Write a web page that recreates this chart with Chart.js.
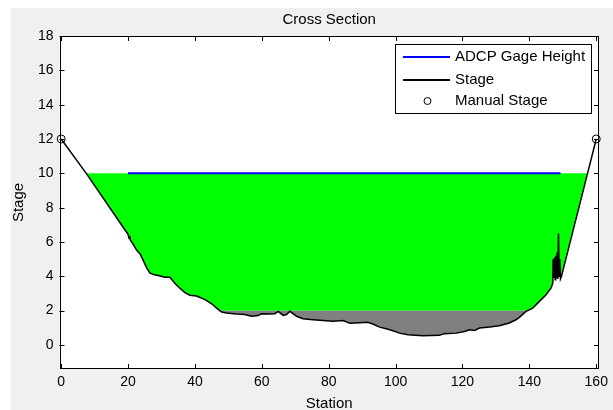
<!DOCTYPE html>
<html>
<head>
<meta charset="utf-8">
<script src="https://cdn.jsdelivr.net/npm/chart.js@4.4.0/dist/chart.umd.min.js"></script>
<style>
  html, body { margin: 0; padding: 0; background: #fff; }
  #wrap { position: absolute; left: 11px; top: 8px; width: 602px; height: 402px; background: #f0f0f0; }
</style>
</head>
<body>
<div id="wrap"><canvas id="c"></canvas></div>
<script>
// bed profile (station, stage)
const stationX = [0, 7.5, 19.1, 20.0, 20.3, 20.5, 20.7, 21.4, 22.5, 23.6, 24.6, 25.6, 26.5, 27.6, 29.0,
  31.0, 32.5, 34.0, 35.5, 37.0, 38.5, 40.5, 43.0, 45.0, 46.5, 48.0, 49.5, 52.4, 54.9, 56.9, 58.9,
  59.9, 62.4, 63.9, 64.9, 66.4, 67.4, 68.4, 70.4, 72.3, 75.3, 78.3, 81.3, 84.3, 86.3, 89.3, 91.7,
  93.2, 95.2, 97.2, 99.2, 101.2, 103.7, 108.2, 113.1, 114.6, 118.1, 120.6, 122.1, 123.6, 125.1,
  128.1, 131.0, 134.0, 136.0, 137.0, 139.0, 141.0, 143.0, 145.0, 146.5, 147.0, 147.1, 147.3, 147.5,
  147.7, 147.9, 148.1, 148.3, 148.5, 148.7, 148.9, 149.1, 149.3, 149.6, 157.4, 160];
const stageY = [12, 10, 6.7, 6.45, 6.2, 6.35, 6.1, 5.9, 5.55, 5.3, 4.9, 4.47, 4.2, 4.1, 4.05,
  3.95, 3.94, 3.6, 3.3, 3.05, 2.9, 2.85, 2.64, 2.4, 2.15, 1.92, 1.86, 1.8, 1.77, 1.67, 1.71,
  1.82, 1.8, 1.82, 1.96, 1.72, 1.77, 1.96, 1.67, 1.53, 1.47, 1.42, 1.38, 1.42, 1.26, 1.3, 1.32,
  1.22, 1.04, 0.95, 0.83, 0.69, 0.6, 0.54, 0.56, 0.66, 0.69, 0.79, 0.89, 0.85, 0.99,
  1.04, 1.12, 1.28, 1.47, 1.61, 1.96, 2.15, 2.54, 2.93, 3.32, 3.6, 5.0, 3.9, 5.1,
  3.8, 5.2, 3.9, 5.4, 3.85, 6.5, 4.0, 5.0, 3.85, 4.0, 10, 12];

const manualX = [0, 160];
const manualY = [12, 12];
const gageX = [20, 149.3];
const gageY = [10, 10];

const waterTop = 10;
const channelBase = 2;

const xTicks = [0, 20, 40, 60, 80, 100, 120, 140, 160];
const yTicks = [0, 2, 4, 6, 8, 10, 12, 14, 16, 18];

const FONT = '"Liberation Sans", Arial, sans-serif';

const bed = stationX.map((x, i) => ({ x, y: stageY[i] }));

const plotBg = {
  id: 'plotBg',
  beforeDraw(chart) {
    const { ctx, chartArea: a } = chart;
    ctx.save();
    ctx.fillStyle = '#fff';
    ctx.fillRect(a.left, a.top, a.width, a.height);
    ctx.restore();
  },
  beforeDatasetsDraw(chart) {
    const { ctx, chartArea: a, scales: { x, y } } = chart;
    ctx.save();
    ctx.strokeStyle = '#000';
    ctx.lineWidth = 1;
    ctx.beginPath();
    xTicks.forEach(v => {
      const px = Math.round(x.getPixelForValue(v)) + 0.5;
      ctx.moveTo(px, a.bottom); ctx.lineTo(px, a.bottom - 5);
      ctx.moveTo(px, a.top); ctx.lineTo(px, a.top + 5);
    });
    yTicks.forEach(v => {
      const py = Math.round(y.getPixelForValue(v)) + 0.5;
      ctx.moveTo(a.left, py); ctx.lineTo(a.left + 5, py);
      ctx.moveTo(a.right, py); ctx.lineTo(a.right - 5, py);
    });
    ctx.stroke();
    ctx.strokeRect(Math.round(a.left) + 0.5, Math.round(a.top) + 0.5,
      Math.round(a.width) - 1, Math.round(a.height) - 1);
    ctx.restore();
  }
};

const boxLegend = {
  id: 'boxLegend',
  afterDraw(chart) {
    const { ctx, chartArea: a } = chart;
    const w = 197, h = 70;
    const left = Math.round(a.right - 6.7 - w), top = Math.round(a.top + 8);
    ctx.save();
    ctx.fillStyle = '#fff';
    ctx.fillRect(left, top, w, h);
    ctx.strokeStyle = '#000';
    ctx.lineWidth = 1;
    ctx.strokeRect(left + 0.5, top + 0.5, w - 1, h - 1);
    ctx.font = '15px ' + FONT;
    ctx.textBaseline = 'middle';
    const rows = [{ ds: 1, dy: 13 }, { ds: 2, dy: 36 }, { ds: 0, dy: 57 }];
    rows.forEach(r => {
      const d = chart.data.datasets[r.ds];
      const yy = top + r.dy;
      if (d.showLine === false) {
        ctx.beginPath();
        ctx.arc(left + 32.5, yy, 3.5, 0, Math.PI * 2);
        ctx.strokeStyle = '#000';
        ctx.lineWidth = 1;
        ctx.stroke();
      } else {
        ctx.beginPath();
        ctx.moveTo(left + 8, yy);
        ctx.lineTo(left + 55, yy);
        ctx.strokeStyle = d.borderColor;
        ctx.lineWidth = 2;
        ctx.stroke();
      }
      ctx.fillStyle = '#000';
      ctx.fillText(d.label, left + 60, yy);
    });
    ctx.restore();
  }
};

new Chart(document.getElementById('c'), {
  type: 'line',
  data: {
    datasets: [
      {
        label: 'Manual Stage',
        data: manualX.map((x, i) => ({ x, y: manualY[i] })),
        showLine: false,
        pointStyle: 'circle',
        pointRadius: 4,
        pointBorderColor: '#000',
        pointBackgroundColor: 'rgba(0,0,0,0)',
        pointBorderWidth: 1,
        clip: false,
        order: 0
      },
      {
        label: 'ADCP Gage Height',
        data: gageX.map((x, i) => ({ x, y: gageY[i] })),
        borderColor: '#0000ff',
        borderWidth: 2,
        pointRadius: 0,
        order: 1
      },
      {
        label: 'Stage',
        data: bed,
        borderColor: '#000',
        borderWidth: 1.5,
        pointRadius: 0,
        order: 2
      },
      {
        label: 'below',
        data: bed.map(p => ({ x: p.x, y: Math.min(p.y, channelBase) })),
        borderColor: 'rgba(0,0,0,0)',
        borderWidth: 0,
        backgroundColor: '#808080',
        fill: { value: channelBase },
        pointRadius: 0,
        order: 3
      },
      {
        label: 'water',
        data: bed.map(p => ({ x: p.x, y: Math.min(Math.max(p.y, channelBase), waterTop) })),
        borderColor: 'rgba(0,0,0,0)',
        borderWidth: 0,
        backgroundColor: '#00ff00',
        fill: { value: waterTop },
        pointRadius: 0,
        order: 4
      }
    ]
  },
  options: {
    responsive: true,
    maintainAspectRatio: false,
    animation: false,
    layout: { padding: { left: 0, right: 13.3, top: 0, bottom: 0 } },
    elements: { line: { tension: 0 } },
    plugins: {
      legend: { display: false },
      tooltip: { enabled: false },
      title: {
        display: true,
        text: 'Cross Section',
        color: '#000',
        fullSize: false,
        font: { family: FONT, size: 15, weight: 'normal' },
        padding: { top: 3, bottom: 7 }
      }
    },
    scales: {
      x: {
        type: 'linear',
        min: -0.5,
        max: 160.8,
        grid: { display: false, drawTicks: false },
        border: { display: false },
        afterBuildTicks: s => { s.ticks = xTicks.map(v => ({ value: v })); },
        afterFit: s => { s.height = 41; },
        ticks: { color: '#000', font: { family: FONT, size: 14 }, padding: 5, maxRotation: 0, autoSkip: false },
        title: {
          display: true,
          text: 'Station',
          color: '#000',
          font: { family: FONT, size: 15, lineHeight: 1 },
          padding: { top: 0, bottom: -1 }
        }
      },
      y: {
        type: 'linear',
        min: -1.4,
        max: 18,
        grid: { display: false, drawTicks: false },
        border: { display: false },
        afterBuildTicks: s => { s.ticks = yTicks.map(v => ({ value: v })); },
        afterFit: s => { s.width = 48.5; },
        ticks: { color: '#000', font: { family: FONT, size: 14 }, padding: 6, autoSkip: false },
        title: {
          display: true,
          text: 'Stage',
          color: '#000',
          font: { family: FONT, size: 15, lineHeight: 1 },
          padding: { top: 0, bottom: 0 }
        }
      }
    }
  },
  plugins: [plotBg, boxLegend]
});
</script>
</body>
</html>
